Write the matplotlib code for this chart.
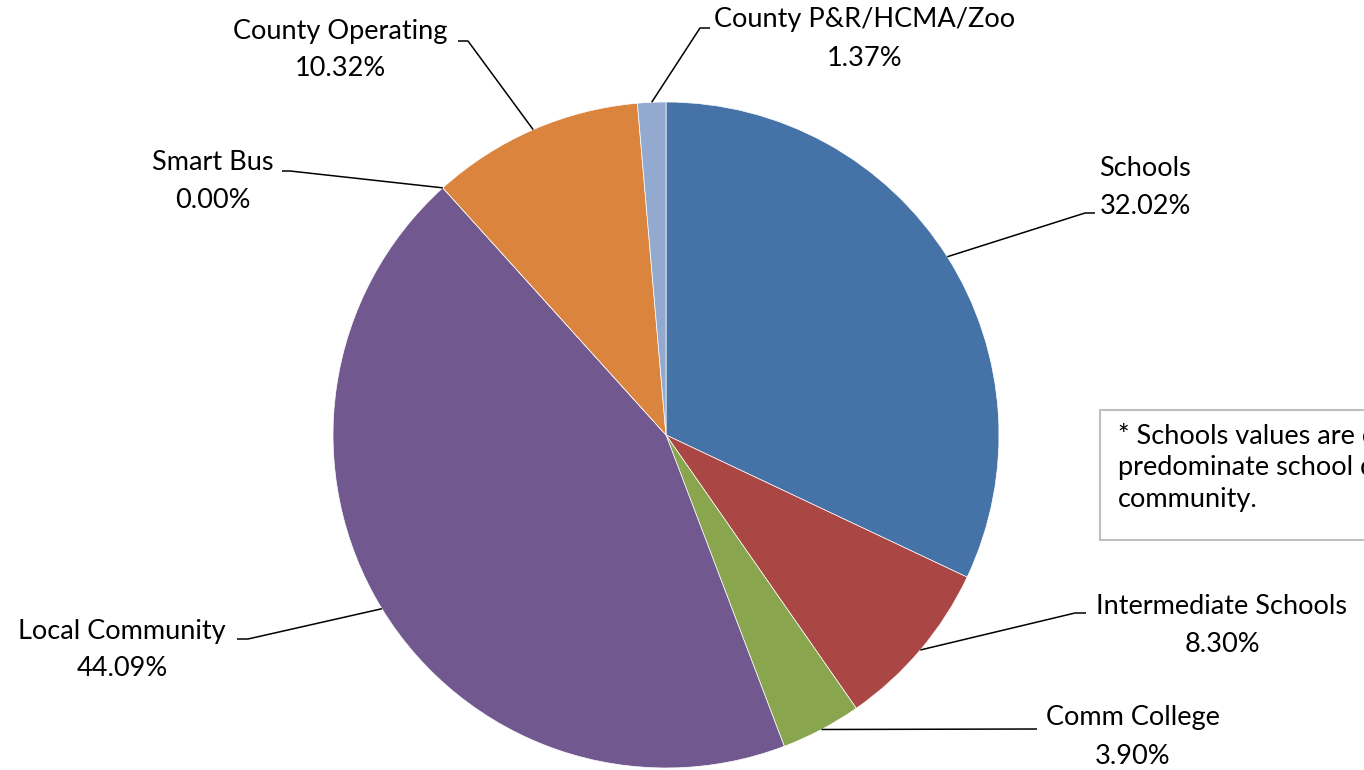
import numpy as np
import matplotlib
matplotlib.use("Agg")
import matplotlib.pyplot as plt
from matplotlib.patches import Rectangle

categories = ["Schools", "Intermediate Schools", "Comm College", "Local Community",
              "Smart Bus", "County Operating", "County P&R/HCMA/Zoo"]
values = [32.02, 8.30, 3.90, 44.09, 0.00, 10.32, 1.37]
pct_labels = ["32.02%", "8.30%", "3.90%", "44.09%", "0.00%", "10.32%", "1.37%"]
colors = ["#4572A7", "#AA4643", "#89A54E", "#71588F", "#4198AF", "#DB843D", "#93A9CF"]
note_lines = ["* Schools values are calculated",
              "predominate school district",
              "community."]

W, H = 1364, 770
fig = plt.figure(figsize=(W / 100, H / 100), dpi=100)

CX, CY, R = 666, 435, 333
FONT = "Lato"
FS = 19.5

pax = fig.add_axes([0, 0, 1, 1])
pax.pie(values, colors=colors, startangle=90, counterclock=False,
        center=(CX, H - CY), radius=R, frame=True,
        wedgeprops=dict(linewidth=0.5, edgecolor="white"))
pax.set_xlim(0, W)
pax.set_ylim(0, H)
pax.set_aspect("auto")
pax.axis("off")

ax = fig.add_axes([0, 0, 1, 1])
ax.set_xlim(0, W)
ax.set_ylim(H, 0)
ax.axis("off")

# label layout: text center x, first line y, elbow x, elbow y, end x
layout = {
    "Schools": (1145, 168, 1085, 213, 1095),
    "Intermediate Schools": (1222, 606, 1075, 613, 1086),
    "Comm College": (1133, 718, 1037, 729, 1037),
    "Local Community": (122, 631, 248, 639, 237),
    "Smart Bus": (213, 163, 290, 171, 282),
    "County Operating": (340, 31, 468, 41, 458),
    "County P&R/HCMA/Zoo": (865, 20, 700, 28, 710),
}

total = sum(values)
cum = 0.0
for cat, v, pl in zip(categories, values, pct_labels):
    mid = cum + v / 2
    cum += v
    ang = np.deg2rad(90 - 360 * mid / total)
    sx = CX + R * np.cos(ang)
    sy = CY - R * np.sin(ang)
    tx, ty, ex, ey, endx = layout[cat]
    ax.plot([sx, ex, endx], [sy, ey, ey], color="black", lw=1.1, solid_capstyle="butt")
    ax.text(tx, ty, cat, ha="center", va="center", fontsize=FS, family=FONT)
    ax.text(tx, ty + 38, pl, ha="center", va="center", fontsize=FS, family=FONT)

ax.add_patch(Rectangle((1100, 410), 300, 130, facecolor="white", edgecolor="#BFBFBF",
                       lw=1.5, clip_on=True))
for i, ln in enumerate(note_lines):
    ax.text(1118, 437 + 31 * i, ln, ha="left", va="center", fontsize=FS, family=FONT,
            clip_on=True)

fig.savefig("out.png", dpi=100)
